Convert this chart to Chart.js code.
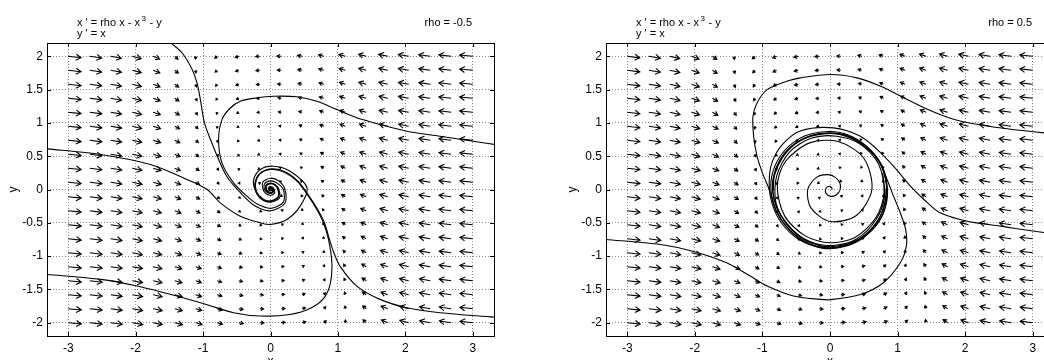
<!DOCTYPE html>
<html>
<head>
<meta charset="utf-8">
<script src="https://cdn.jsdelivr.net/npm/chart.js@4.4.1/dist/chart.umd.min.js"></script>
<style>
    html, body { margin: 0; padding: 0; background: #fff; overflow: hidden; width: 1044px; height: 360px; }
    .panel { position: absolute; top: 0; height: 360px; }
</style>
</head>
<body>
<div class="panel" style="left:0;width:522px"><canvas id="leftChart" width="522" height="360"></canvas></div>
<div class="panel" style="left:522px;width:560px"><canvas id="rightChart" width="560" height="360"></canvas></div>
<script>
    // axes
    const xTicks = [-3, -2, -1, 0, 1, 2, 3];
    const yTicks = [-2, -1.5, -1, -0.5, 0, 0.5, 1, 1.5, 2];
    const xRange = [-3.315, 3.315];
    const yRange = [-2.2, 2.2];

    // direction field grid (20 x 20)
    const gridX = [-3, -2.68, -2.37, -2.05, -1.74, -1.42, -1.11, -0.79, -0.47, -0.16,
                   0.16, 0.47, 0.79, 1.11, 1.42, 1.74, 2.05, 2.37, 2.68, 3];
    const gridY = [-2, -1.79, -1.58, -1.37, -1.16, -0.95, -0.74, -0.53, -0.32, -0.11,
                   0.11, 0.32, 0.53, 0.74, 0.95, 1.16, 1.37, 1.58, 1.79, 2];

    // parameter of each panel (x' = rho x - x^3 - y, y' = x)
    const rhoLeft = -0.5;
    const rhoRight = 0.5;

    // trajectories, rho = -0.5
    const leftFromTop = [[-1.52,2.3],[-1.49,2.22],[-1.31,2.05],[-1.16,1.80],[-1.09,1.60],[-1.04,1.35],[-0.98,1.0],
        [-0.89,0.75],[-0.79,0.50],[-0.65,0.20],[-0.45,-0.045],[-0.24,-0.24],[0,-0.32],[0.21,-0.21],[0.215,0],
        [0.125,0.125],[0,0.17],[-0.113,0.113],[-0.11,0],[-0.064,-0.064],[0,-0.087],[0.058,-0.058],[0.056,0],
        [0.033,0.033],[0,0.044],[-0.03,0.03],[-0.029,0],[-0.017,-0.017],[0,-0.023],[0.016,-0.016],[0.015,0],[0,0.01]];
    const leftFromRight = [[3.4,0.665],[3.007,0.725],[2.514,0.80],[2.02,0.875],[1.625,0.976],[1.28,1.077],
        [0.984,1.20],[0.687,1.326],[0.391,1.392],[0.044,1.40],[-0.20,1.377],[-0.449,1.326],[-0.60,1.22],
        [-0.72,1.05],[-0.77,0.75],[-0.72,0.40],[-0.548,0.10],[-0.35,-0.10],[-0.21,-0.21],[0,-0.283],
        [0.19,-0.19],[0.19,0],[0.096,0.096],[0,0.13],[-0.087,0.087],[-0.088,0],[-0.045,-0.045],[0,-0.06],
        [0.04,-0.04],[0.041,0],[0.021,0.021],[0,0.028],[-0.018,0.018],[-0.019,0],[0,-0.013]];
    const leftFromLeftUpper = [[-3.4,0.615],[-3.31,0.61],[-2.52,0.526],[-1.78,0.375],[-1.24,0.15],[-0.94,0],
        [-0.745,-0.20],[-0.45,-0.40],[-0.15,-0.50],[0,-0.525],[0.243,-0.45],[0.44,-0.25],[0.54,0.03],
        [0.29,0.275],[0.04,0.35],[-0.15,0.30],[-0.25,0.15],[-0.23,0],[-0.14,-0.14],[0,-0.19],[0.13,-0.13],
        [0.125,0],[0.072,0.072],[0,0.098],[-0.066,0.066],[-0.066,0],[-0.038,-0.038],[0,-0.052],[0.035,-0.035],
        [0.034,0],[0.02,0.02],[0,0.027],[-0.018,0.018],[-0.018,0],[0,-0.012]];
    const leftFromLeftLower = [[-3.4,-1.27],[-3.31,-1.276],[-2.52,-1.35],[-1.98,-1.45],[-1.39,-1.60],
        [-0.94,-1.73],[-0.55,-1.85],[-0.15,-1.90],[0.29,-1.877],[0.60,-1.78],[0.80,-1.62],[0.89,-1.40],
        [0.91,-1.10],[0.86,-0.75],[0.785,-0.50],[0.687,-0.30],[0.55,-0.08],[0.40,0.12],[0.22,0.25],[0.02,0.30],
        [-0.15,0.24],[-0.22,0.10],[-0.2,-0.05],[-0.1,-0.15],[0,-0.17],[0.11,-0.11],[0.11,0],[0.065,0.065],
        [0,0.088],[-0.06,0.06],[-0.06,0],[-0.034,-0.034],[0,-0.047],[0.032,-0.032],[0.03,0],[0.017,0.017],
        [0,0.024],[-0.016,0.016],[-0.016,0],[0,-0.011]];
    const leftFromRightLower = [[3.4,-1.925],[3.32,-1.917],[2.514,-1.85],[2.02,-1.776],[1.625,-1.65],
        [1.28,-1.45],[1.03,-1.15],[0.94,-0.95],[0.875,-0.75],[0.80,-0.50],[0.70,-0.30],[0.56,-0.08],[0.41,0.12],
        [0.23,0.26],[0.03,0.31],[-0.15,0.25],[-0.23,0.10],[-0.21,-0.05],[-0.11,-0.16],[0,-0.18],[0.115,-0.115],
        [0.115,0],[0.068,0.068],[0,0.09],[-0.062,0.062],[-0.062,0],[-0.036,-0.036],[0,-0.049],[0.033,-0.033],
        [0.032,0],[0.018,0.018],[0,0.025],[-0.017,0.017],[-0.017,0],[0,-0.012]];

    // trajectories, rho = 0.5
    const rightFromRightUpper = [[3.4,0.84],[3.17,0.85],[2.34,0.95],[1.84,1.05],[1.45,1.20],[1.05,1.40],
        [0.75,1.55],[0.40,1.676],[0.0,1.726],[-0.44,1.676],[-0.64,1.626],[-0.93,1.50],[-1.08,1.30],[-1.14,1.10],
        [-1.13,0.80],[-1.08,0.50],[-1.0,0.25],[-0.9,0.0],[-0.80,-0.30],[-0.65,-0.55],[-0.42,-0.76],[-0.12,-0.88],
        [0.2,-0.86],[0.5,-0.72],[0.73,-0.47],[0.84,-0.18],[0.84,0.1],[0.76,0.38],[0.56,0.63],[0.28,0.8],[0,0.85],
        [-0.28,0.81],[-0.52,0.69],[-0.72,0.48],[-0.83,0.22],[-0.85,-0.02],[-0.79,-0.27],[-0.645,-0.51],
        [-0.42,-0.73],[-0.15,-0.845],[0.0,-0.86],[0.28,-0.81],[0.53,-0.67],[0.73,-0.43],[0.82,-0.18],[0.83,0]];
    const rightFromLeft = [[-3.4,-0.745],[-3.32,-0.75],[-2.51,-0.826],[-2.02,-0.93],[-1.53,-1.10],[-1.18,-1.30],
        [-0.93,-1.45],[-0.54,-1.60],[-0.144,-1.65],[0.0,-1.655],[0.45,-1.577],[0.79,-1.40],[1.04,-1.10],
        [1.13,-0.85],[1.12,-0.60],[1.04,-0.35],[0.94,-0.10],[0.845,0.15],[0.73,0.42],[0.53,0.66],[0.27,0.82],
        [0,0.87],[-0.3,0.83],[-0.55,0.70],[-0.75,0.48],[-0.86,0.21],[-0.87,-0.05],[-0.8,-0.32],[-0.64,-0.56],
        [-0.4,-0.76],[-0.1,-0.87],[0.2,-0.845],[0.5,-0.70],[0.72,-0.45],[0.82,-0.15],[0.83,0.1],[0.74,0.39],
        [0.54,0.63],[0.26,0.8],[0,0.84],[-0.28,0.8],[-0.52,0.68],[-0.71,0.47],[-0.82,0.22],[-0.84,-0.02]];
    const rightFromRightLower = [[3.4,-0.66],[3.19,-0.65],[2.52,-0.55],[2.03,-0.476],[1.63,-0.35],[1.39,-0.15],
        [1.19,0.05],[0.94,0.35],[0.70,0.60],[0.45,0.80],[0.053,0.926],[-0.44,0.88],[-0.7,0.68],[-0.86,0.4],
        [-0.9,0.1],[-0.86,-0.2],[-0.72,-0.5],[-0.46,-0.75],[-0.12,-0.87],[0.24,-0.84],[0.54,-0.68],[0.76,-0.42],
        [0.84,-0.12],[0.82,0.18],[0.7,0.46],[0.47,0.68],[0.2,0.81],[0,0.845],[-0.27,0.81],[-0.52,0.685],
        [-0.72,0.46],[-0.83,0.2],[-0.845,-0.03],[-0.78,-0.28],[-0.64,-0.51],[-0.41,-0.73],[-0.14,-0.845],[0,-0.855]];
    const rightFromCenter = [[0.03,0],[0.026,0.026],[0,0.045],[-0.039,0.039],[-0.067,0],[-0.058,-0.058],[0,-0.1],
        [0.086,-0.086],[0.15,0],[0.13,0.13],[0,0.22],[-0.19,0.19],[-0.33,0],[-0.28,-0.28],[0,-0.48],[0.39,-0.39],
        [0.62,0],[0.5,0.47],[0.12,0.72],[-0.3,0.7],[-0.66,0.42],[-0.78,0.05],[-0.67,-0.4],[-0.36,-0.7],[0,-0.8],
        [0.37,-0.72],[0.68,-0.42],[0.8,-0.05],[0.72,0.38],[0.45,0.68],[0.1,0.8],[-0.28,0.77],[-0.6,0.56],
        [-0.79,0.2],[-0.8,-0.2],[-0.62,-0.55],[-0.3,-0.78],[0.05,-0.84],[0.4,-0.74],[0.69,-0.44],[0.81,-0.1],[0.78,0.25]];

    const FONT = '"Liberation Sans", Arial, Helvetica, sans-serif';

    // arrows, frame, inner ticks and labels
    const phasePlugin = {
        id: 'phase',
        beforeDatasetsDraw(chart) {
            const ctx = chart.ctx, area = chart.chartArea;
            const sx = chart.scales.x, sy = chart.scales.y;
            const rho = chart.options.plugins.phase.rho;
            ctx.save();
            ctx.beginPath();
            ctx.rect(area.left, area.top, area.right - area.left, area.bottom - area.top);
            ctx.clip();
            ctx.strokeStyle = '#000';
            ctx.lineWidth = 1.1;
            ctx.lineJoin = 'miter';
            ctx.beginPath();
            gridX.forEach(gx => {
                gridY.forEach(gy => {
                    const u = rho * gx - gx * gx * gx - gy;
                    const v = gx;
                    const m = Math.hypot(u, v);
                    const len = Math.max(2, 15.5 * m / (m + 5.5));
                    const px = sx.getPixelForValue(gx + u) - sx.getPixelForValue(gx);
                    const py = sy.getPixelForValue(gy + v) - sy.getPixelForValue(gy);
                    const n = Math.hypot(px, py) || 1;
                    const dx = px / n, dy = py / n;
                    const x0 = sx.getPixelForValue(gx), y0 = sy.getPixelForValue(gy);
                    const x1 = x0 + dx * len, y1 = y0 + dy * len;
                    const h = Math.min(5, 0.45 * len + 1), w = h * 0.6;
                    ctx.moveTo(x0, y0);
                    ctx.lineTo(x1, y1);
                    ctx.moveTo(x1 - dx * h - dy * w, y1 - dy * h + dx * w);
                    ctx.lineTo(x1, y1);
                    ctx.lineTo(x1 - dx * h + dy * w, y1 - dy * h - dx * w);
                });
            });
            ctx.stroke();
            ctx.restore();
        },
        afterDraw(chart) {
            const ctx = chart.ctx, a = chart.chartArea;
            const sx = chart.scales.x, sy = chart.scales.y;
            const opts = chart.options.plugins.phase;
            ctx.save();
            ctx.strokeStyle = '#000';
            ctx.lineWidth = 1;
            ctx.strokeRect(Math.round(a.left) + 0.5, Math.round(a.top) + 0.5,
                Math.round(a.right - a.left), Math.round(a.bottom - a.top));
            ctx.beginPath();
            xTicks.forEach(v => {
                const x = Math.round(sx.getPixelForValue(v)) + 0.5;
                ctx.moveTo(x, a.bottom); ctx.lineTo(x, a.bottom - 4);
                ctx.moveTo(x, a.top); ctx.lineTo(x, a.top + 4);
            });
            yTicks.forEach(v => {
                const y = Math.round(sy.getPixelForValue(v)) + 0.5;
                ctx.moveTo(a.left, y); ctx.lineTo(a.left + 4, y);
                ctx.moveTo(a.right, y); ctx.lineTo(a.right - 4, y);
            });
            ctx.stroke();

            ctx.fillStyle = '#000';
            ctx.textBaseline = 'alphabetic';
            // equations
            const ex = a.left + 30, ey = 26;
            ctx.textAlign = 'left';
            ctx.font = '11px ' + FONT;
            const part1 = "x ' = rho x - x";
            ctx.fillText(part1, ex, ey);
            const w1 = ctx.measureText(part1).width;
            ctx.font = '8px ' + FONT;
            ctx.fillText('3', ex + w1 + 1.5, ey - 5);
            const w3 = ctx.measureText('3').width;
            ctx.font = '11px ' + FONT;
            ctx.fillText(' - y', ex + w1 + 2 + w3, ey);
            ctx.fillText("y ' = x", ex, ey + 11);
            ctx.textAlign = 'right';
            ctx.fillText('rho = ' + opts.rho, a.right - 22, ey);
            // axis titles
            ctx.textAlign = 'center';
            ctx.font = '12px ' + FONT;
            ctx.fillText('x', (a.left + a.right) / 2, a.bottom + 29);
            ctx.translate(a.left - 30, (a.top + a.bottom) / 2);
            ctx.rotate(-Math.PI / 2);
            ctx.fillText('y', 0, 0);
            ctx.restore();
        }
    };

    function makeChart(id, rho, curves, padLeft) {
        const ctx = document.getElementById(id).getContext('2d');
        return new Chart(ctx, {
            type: 'line',
            data: {
                datasets: curves.map(c => ({
                    data: c.map(p => ({ x: p[0], y: p[1] })),
                    borderColor: '#000',
                    borderWidth: 1.1,
                    pointRadius: 0,
                    tension: 0.3,
                    fill: false
                }))
            },
            options: {
                responsive: false,
                animation: false,
                devicePixelRatio: 1,
                layout: { padding: { top: 43, right: 28, left: padLeft, bottom: 0 } },
                plugins: { legend: { display: false }, tooltip: { enabled: false }, phase: { rho: rho } },
                scales: {
                    x: {
                        type: 'linear', min: xRange[0], max: xRange[1],
                        afterBuildTicks: s => { s.ticks = xTicks.map(v => ({ value: v })); },
                        afterFit: s => { s.height = 24; },
                        grid: { color: '#8a8a8a', drawTicks: false },
                        border: { display: false, dash: [1, 2] },
                        ticks: { padding: 5, color: '#000', font: { family: FONT, size: 12 }, callback: v => String(v) }
                    },
                    y: {
                        type: 'linear', min: yRange[0], max: yRange[1],
                        afterBuildTicks: s => { s.ticks = yTicks.map(v => ({ value: v })); },
                        afterFit: s => { s.width = 47; },
                        grid: { color: '#8a8a8a', drawTicks: false },
                        border: { display: false, dash: [1, 2] },
                        ticks: { padding: 4, color: '#000', font: { family: FONT, size: 12 }, callback: v => String(v) }
                    }
                }
            },
            plugins: [phasePlugin]
        });
    }

    makeChart('leftChart', rhoLeft,
        [leftFromTop, leftFromRight, leftFromLeftUpper, leftFromLeftLower, leftFromRightLower], 0);
    makeChart('rightChart', rhoRight,
        [rightFromRightUpper, rightFromLeft, rightFromRightLower, rightFromCenter], 37);
</script>
</body>
</html>
